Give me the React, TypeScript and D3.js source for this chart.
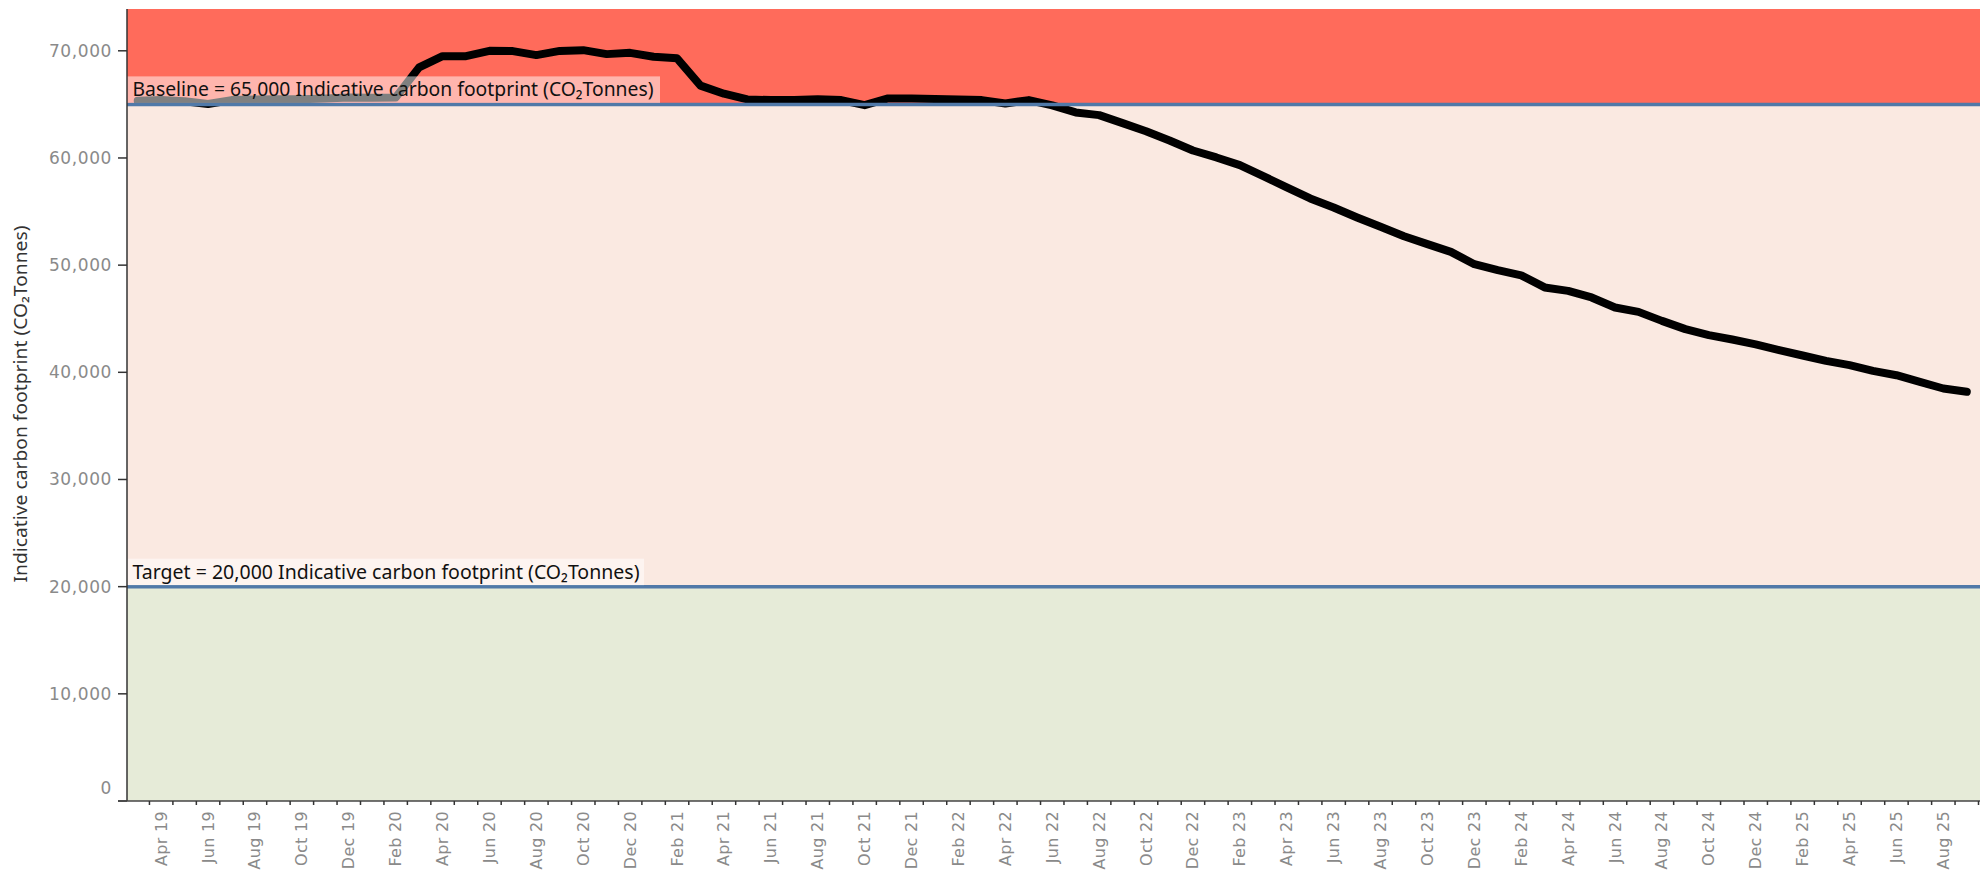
import React from "react";
import * as d3 from "d3";

// Monthly points, Mar 19 .. Sep 25 (one per month)
const months = d3.timeMonth.range(new Date(2019, 2, 1), new Date(2025, 9, 1));
const monthKeys = months.map(d3.timeFormat("%Y-%m"));

// Indicative carbon footprint (CO2 tonnes)
const footprint = [
  65330, 65400, 65300, 65030, 65400, 65460, 65490, 65490, 65560, 65650,
  65620, 65650, 68450, 69500, 69500, 70000, 69970, 69600, 69990, 70060,
  69690, 69810, 69440, 69300, 66750, 66000, 65460, 65400, 65400, 65480,
  65400, 64930, 65560, 65560, 65500, 65450, 65400, 65090, 65400, 64900,
  64250, 64000, 63250, 62500, 61630, 60700, 60050, 59335, 58310, 57250,
  56220, 55380, 54450, 53575, 52700, 51960, 51240, 50090, 49530, 49040,
  47920, 47600, 46985, 46050, 45640, 44800, 44030, 43470, 43060, 42600,
  42070, 41570, 41070, 40670, 40140, 39730, 39110, 38490, 38180,
];

const yTicks = [0, 10000, 20000, 30000, 40000, 50000, 60000, 70000];
const yMax = 73900;
const baseline = 65000;
const target = 20000;
const unitLabel = "Indicative carbon footprint (CO\u2082Tonnes)";

const width = 1986;
const height = 873;
const plotLeft = 127;
const plotRight = 1980;

export default function App() {
  const x = d3
    .scaleBand<string>()
    .domain(monthKeys)
    .range([126, 1978.5])
    .padding(0);
  const y = d3.scaleLinear().domain([0, yMax]).range([801, 9]);
  const cx = (k: string) => (x(k) as number) + x.bandwidth() / 2;

  const line = d3
    .line<number>()
    .x((_, i) => cx(monthKeys[i]))
    .y((d) => y(d));

  const fmt = d3.format(",");
  const monthFmt = d3.timeFormat("%b %y");

  // tick marks sit on month boundaries, labels every other month
  const boundaries = d3.range(1, monthKeys.length + 1).map((i) => 126 + i * x.step());
  const labelIdx = d3.range(1, monthKeys.length, 2);

  const refLines = [
    { value: baseline, text: `Baseline = ${fmt(baseline)} ${unitLabel}`, boxW: 533, textW: 521 },
    { value: target, text: `Target = ${fmt(target)} ${unitLabel}`, boxW: 517, textW: 507 },
  ];

  return (
    <svg
      width={width}
      height={height}
      style={{ position: "absolute", left: 0, top: 0, display: "block", background: "#fff" }}
    >
      {/* bands */}
      <rect x={plotLeft} y={y(yMax)} width={plotRight - plotLeft} height={y(baseline) - y(yMax)} fill="#ff6b5b" />
      <rect x={plotLeft} y={y(baseline)} width={plotRight - plotLeft} height={y(target) - y(baseline)} fill="#fae9e1" />
      <rect x={plotLeft} y={y(target)} width={plotRight - plotLeft} height={y(0) - y(target)} fill="#e6ebd8" />

      {/* data line */}
      <path
        d={line(footprint) || ""}
        fill="none"
        stroke="#000"
        strokeWidth={8}
        strokeLinejoin="round"
        strokeLinecap="round"
      />

      {/* reference lines */}
      {refLines.map((r) => (
        <line key={r.value} x1={plotLeft} x2={plotRight} y1={y(r.value)} y2={y(r.value)} stroke="#5079a8" strokeWidth={3.5} />
      ))}
      {refLines.map((r) => (
        <g key={"l" + r.value}>
          <rect x={plotLeft} y={y(r.value) - 28} width={r.boxW} height={26.5} fill="#fff" fillOpacity={0.5} />
          <text
            x={132.5}
            y={y(r.value) - 8}
            fontFamily="Noto Sans, sans-serif"
            fontSize={20}
            fill="#111"
            textLength={r.textW}
            lengthAdjust="spacingAndGlyphs"
          >
            {r.text}
          </text>
        </g>
      ))}

      {/* y axis */}
      <line x1={plotLeft} x2={plotLeft} y1={y(yMax)} y2={y(0)} stroke="#333" strokeWidth={1.5} />
      {yTicks.map((t) => (
        <g key={t}>
          <line x1={118} x2={plotLeft} y1={y(t)} y2={y(t)} stroke="#333" strokeWidth={1.5} />
          <text
            x={112}
            y={t === 0 ? y(t) - 13 : y(t)}
            textAnchor="end"
            dominantBaseline="central"
            fontFamily="DejaVu Sans, sans-serif"
            fontSize={17}
            letterSpacing={0.6}
            fill="#8a8a8a"
          >
            {fmt(t)}
          </text>
        </g>
      ))}
      <text
        transform="translate(20,404) rotate(-90)"
        textAnchor="middle"
        dominantBaseline="central"
        fontFamily="Noto Sans, sans-serif"
        fontSize={18}
        fill="#333"
        textLength={357}
        lengthAdjust="spacingAndGlyphs"
      >
        {unitLabel}
      </text>

      {/* x axis */}
      <line x1={118} x2={plotRight} y1={801} y2={801} stroke="#444" strokeWidth={1.5} />
      {boundaries.map((bx, i) => (
        <line key={i} x1={bx} x2={bx} y1={801} y2={805} stroke="#333" strokeWidth={1.5} />
      ))}
      {labelIdx.map((i) => (
        <text
          key={i}
          transform={`translate(${cx(monthKeys[i])},811) rotate(-90)`}
          textAnchor="end"
          dominantBaseline="central"
          fontFamily="DejaVu Sans, sans-serif"
          fontSize={16}
          letterSpacing={0.3}
          fill="#8a8a8a"
        >
          {monthFmt(months[i])}
        </text>
      ))}
    </svg>
  );
}
